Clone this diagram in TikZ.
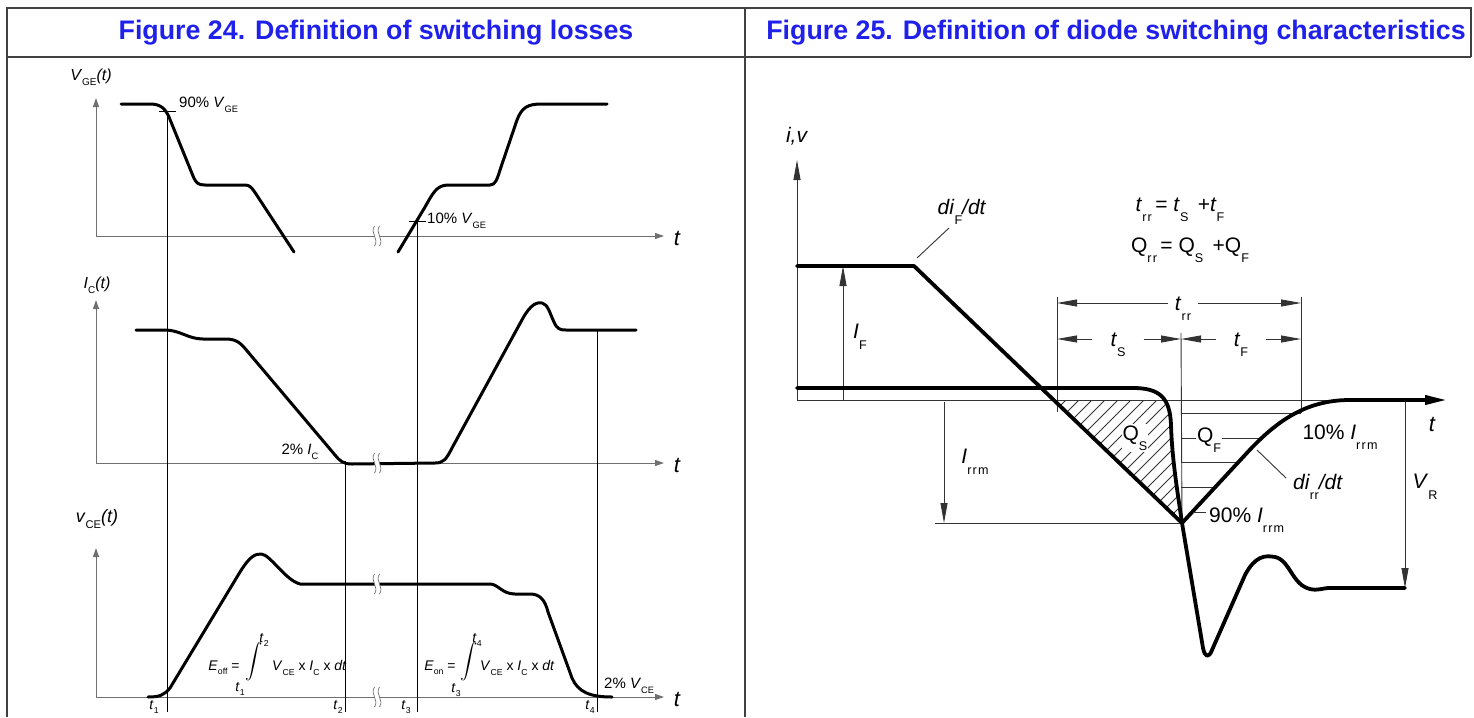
\documentclass[tikz,border=0pt]{standalone}
\usepackage{amsmath}
\usepackage{graphicx}
\usepackage{fontspec}
\setmainfont{Liberation Sans}
\usetikzlibrary{arrows.meta}
\definecolor{figblue}{RGB}{32,32,235}
\definecolor{axisgray}{RGB}{112,112,112}
\newcommand{\lsub}[1]{\raisebox{-0.3em}{\scalebox{0.62}{#1}}}
\newcommand{\dsub}[1]{\raisebox{-0.5em}{\scalebox{0.6}{#1}}}
\tikzset{
  tbl/.style={draw=black!75, line width=1.6pt},
  axis/.style={draw=axisgray, line width=1pt, -{Triangle[length=9pt,width=6pt]}},
  wave/.style={line width=3pt, line cap=round, line join=round},
  dwave/.style={line width=3.8pt, line cap=round, line join=round},
  guide/.style={line width=0.9pt},
  hair/.style={draw=black!80, line width=0.9pt},
  dimtip/.style={hair, -{Triangle[length=20pt,width=7pt]}},
  head/.style={font=\fontsize{26.8}{30}\selectfont\bfseries, text=figblue, inner sep=0pt},
  albl/.style={font=\fontsize{16}{18}\selectfont, inner sep=1pt},
  lbl/.style={font=\fontsize{15}{17}\selectfont, inner sep=1pt},
  flbl/.style={font=\fontsize{14}{16}\selectfont, inner sep=1pt},
  tlbl/.style={font=\fontsize{22}{24}\selectfont\itshape, inner sep=1pt},
  rlbl/.style={font=\fontsize{21}{24}\selectfont, inner sep=1pt},
  brk/.pic={
    \fill[white] (-2.5,-10) .. controls (-7.5,-3) and (2.5,3) .. (-2.5,10) -- (2.5,10) .. controls (7.5,3) and (-2.5,-3) .. (2.5,-10) -- cycle;
    \draw[axisgray, line width=.7pt] (-2.5,-10) .. controls (-7.5,-3) and (2.5,3) .. (-2.5,10);
    \draw[axisgray, line width=.7pt] (2.5,-10) .. controls (-2.5,-3) and (7.5,3) .. (2.5,10);
  }
}

\begin{document}
\begin{tikzpicture}[x=1pt, y=-1pt]
\useasboundingbox (0,0) rectangle (1474,717);

\draw[tbl] (7,717) -- (7,8) -- (1471,8) -- (1471,57);
\draw[tbl] (7,57) -- (1471,57);
\draw[tbl] (745,8) -- (745,717);
\node[head] (hdrA) at (376,33) {Figure 24. Definition of switching losses};
\node[head] (hdrB) at (1116,33) {Figure 25. Definition of diode switching characteristics};

% Figure 24
\foreach \ya/\yt in {236/98, 463/300, 697/548} {
  \draw[axis] (96,\ya) -- (96,\yt);
  \draw[axis] (96,\ya) -- (664,\ya);
}
\node[tlbl] (tAx1) at (677,238) {t};
\node[tlbl] (tAx2) at (677,465) {t};
\node[tlbl] (tAx3) at (677,699) {t};
\node[albl] (yVge) at (91,77) {\textit{V}\lsub{GE}\textit{(t)}};
\node[albl] (yIc) at (97,285) {\textit{I}\lsub{C}\textit{(t)}};
\node[albl, font=\fontsize{18}{20}\selectfont] (yVce) at (97,519) {\textit{v}\lsub{CE}\textit{(t)}};

\coordinate (p90) at (167,111);
\coordinate (p10) at (417,221);
\draw[guide] (p90) -- (167,712);
\draw[guide] (p10) -- (417,712);
\draw[guide] (345,461) -- (345,712);
\draw[guide] (597,330) -- (597,712);
\draw[guide] ([xshift=-8pt]p90) -- ([xshift=9pt]p90);
\draw[guide] ([xshift=-8pt]p10) -- ([xshift=9pt]p10);

\draw[wave] (121,104) -- (150,104) .. controls (160,104) and (165,108) .. (169,117) -- (193,176)
  .. controls (196,183) and (198,185) .. (205,185) -- (245,185) .. controls (250,185) and (252,188) .. (256,194) -- (294,252);
\draw[wave] (398,252) -- (425,207) .. controls (432,195) and (436,185) .. (448,185) -- (490,185)
  .. controls (495,185) and (497,180) .. (500,170) -- (517,120) .. controls (522,107) and (528,104) .. (542,104) -- (607,104);
\draw[wave] (136,330) -- (165,330) .. controls (180,330) and (188,339) .. (203,339) -- (225,339)
  .. controls (236,339) and (240,342) .. (248,352) -- (335,455) .. controls (340,461) and (343,464) .. (352,464) -- (435,463)
  .. controls (443,463) and (446,460) .. (452,448) -- (523,318) .. controls (531,304) and (537,302) .. (542,303)
  .. controls (548,304) and (550,314) .. (554,322) .. controls (557,329) and (560,330) .. (566,330) -- (636,330);
\draw[wave] (148,697) .. controls (160,697) and (164,695) .. (170,688) -- (240,572) .. controls (250,556) and (255,554) .. (261,554)
  .. controls (270,554) and (285,580) .. (300,584) -- (490,584) .. controls (498,584) and (502,594) .. (515,594) -- (530,594)
  .. controls (540,594) and (545,600) .. (548,612) -- (572,678) .. controls (578,692) and (590,697) .. (612,697);

\pic at (377,236) {brk};
\pic at (377,463) {brk};
\pic at (377,584) {brk};
\pic at (377,697) {brk};

\node[lbl, anchor=west] (l90) at (178,105) {90\% \textit{V}\lsub{GE}};
\node[lbl, anchor=west] (l10) at (426,221) {10\% \textit{V}\lsub{GE}};
\node[lbl] (l2ic) at (300,452) {2\% \textit{I}\lsub{C}};
\node[lbl, anchor=west] (l2vce) at (603,686) {2\% \textit{V}\lsub{CE}};

\node[flbl] (eoff) at (224,668) {\textit{E}\lsub{off} =};
\node[font=\fontsize{17}{20}\selectfont, inner sep=0pt] (intA) at (254,662) {$\displaystyle\int$};
\node[flbl] (intAhi) at (264,640) {\textit{t}\lsub{2}};
\node[flbl] (intAlo) at (240,689) {\textit{t}\lsub{1}};
\node[flbl, anchor=west] (eoffB) at (271,668) {\textit{V}\lsub{CE} x \textit{I}\lsub{C} x \textit{dt}};
\node[flbl] (eon) at (440,668) {\textit{E}\lsub{on} =};
\node[font=\fontsize{17}{20}\selectfont, inner sep=0pt] (intB) at (469,662) {$\displaystyle\int$};
\node[flbl] (intBhi) at (477,640) {\textit{t}\lsub{4}};
\node[flbl] (intBlo) at (456,690) {\textit{t}\lsub{3}};
\node[flbl, anchor=west] (eonB) at (479,668) {\textit{V}\lsub{CE} x \textit{I}\lsub{C} x \textit{dt}};

\node[flbl, anchor=north] (tm1) at (154,699) {\textit{t}\lsub{1}};
\node[flbl, anchor=north] (tm2) at (338,699) {\textit{t}\lsub{2}};
\node[flbl, anchor=north] (tm3) at (406,699) {\textit{t}\lsub{3}};
\node[flbl, anchor=north] (tm4) at (590,699) {\textit{t}\lsub{4}};

% Figure 25
\coordinate (vtx) at (1182,523);
\draw[hair, -{Triangle[length=20pt,width=7pt]}] (797,400) -- (797,160);
\draw[hair] (797,400) -- (1350,400);
\node[rlbl] (liv) at (797,136) {\textit{i,v}};

\begin{scope}
  \clip (1054,400) -- (1166,400) -- (1171,425) .. controls (1172,460) and (1178,495) .. (vtx) -- cycle;
  \foreach \k in {0,...,21} \draw[hair] (900+13*\k,540) -- ++(160,-160);
\end{scope}
\foreach \yy/\xe in {413/1301, 438/1262, 462/1238, 487/1215}
  \draw[hair] (1181,\yy) -- (\xe,\yy);

\draw[hair] (935,523) -- (vtx);
\draw[hair] (1181,333) -- (vtx);
\draw[hair] (1057,297) -- (1057,412);
\draw[hair] (1301,297) -- (1301,413);

\coordinate (ifB) at (843,400);
\coordinate (ifT) at (843,266);
\coordinate (irB) at (944,402);
\coordinate (irT) at (944,523);
\coordinate (vrT) at (1405,402);
\coordinate (vrB) at (1405,588);
\draw[dimtip] (ifB) -- (ifT);
\draw[dimtip] (irB) -- (irT);
\draw[dimtip] (vrT) -- (vrB);

\draw[dwave, -{Triangle[length=22pt,width=9pt]}] (797,266) -- (914,266) -- (vtx) -- (1245,455)
  .. controls (1275,422) and (1305,400) .. (1350,400) -- (1447,400);
\draw[dwave] (797,388) -- (1133,388) .. controls (1160,388) and (1170,398) .. (1171,425)
  .. controls (1172,460) and (1178,495) .. (vtx) -- (1203,648) .. controls (1205,658) and (1209,658) .. (1212,650)
  -- (1245,575) .. controls (1255,556) and (1265,555) .. (1275,557) .. controls (1290,560) and (1292,585) .. (1310,589)
  .. controls (1318,591) and (1322,588) .. (1330,588) -- (1405,588);

\coordinate (trrL) at (1057,303);
\coordinate (trrR) at (1301,303);
\coordinate (tsL) at (1057,339);
\coordinate (tmid) at (1181,339);
\coordinate (tfR) at (1301,339);
\node[rlbl, anchor=base, inner xsep=7pt] (trr) at (1183,310) {\textit{t}\dsub{r\kern2pt r}};
\node[rlbl, anchor=base, inner xsep=18pt] (ts) at (1118,346) {\textit{t}\dsub{S}};
\node[rlbl, anchor=base, inner xsep=18pt] (tf) at (1241,346) {\textit{t}\dsub{F}};
\draw[dimtip] (trr.west |- trrL) -- (trrL);
\draw[dimtip] (trr.east |- trrR) -- (trrR);
\draw[dimtip] (ts.west |- tsL) -- (tsL);
\draw[dimtip] (ts.east |- tmid) -- (tmid);
\draw[dimtip] (tf.west |- tmid) -- (tmid);
\draw[dimtip] (tf.east |- tfR) -- (tfR);

\node[rlbl] (ftrr) at (1180,210) {\textit{t}\dsub{r\kern2pt r}\,= \textit{t}\dsub{S}\, +\textit{t}\dsub{F}};
\node[rlbl] (fqrr) at (1190,250) {Q\dsub{r\kern2pt r}\,= Q\dsub{S}\, +Q\dsub{F}};

\coordinate (difA) at (917,258);
\coordinate (difB) at (949,228);
\draw[hair] (difA) -- (difB);
\node[rlbl] (ldif) at (962,212) {\textit{di}\dsub{F}\textit{/dt}};
\node[rlbl] (lif) at (860,337) {\textit{I}\dsub{F}};
\node[rlbl] (lirrm) at (975,462) {\textit{I}\dsub{r\kern2pt r\kern2pt m}};
\node[rlbl] (lvr) at (1425,487) {\textit{V}\dsub{R}};
\node[rlbl] (lqs) at (1135,438) [fill=white] {Q\dsub{S}};
\node[rlbl] (lqf) at (1209,440) [fill=white] {Q\dsub{F}};
\node[rlbl] (l10r) at (1340,437) {10\% \textit{I}\dsub{r\kern2pt r\kern2pt m}};
\coordinate (drA) at (1257,450);
\coordinate (drB) at (1286,478);
\draw[hair] (drA) -- (drB);
\node[rlbl] (ldrr) at (1318,487) {\textit{di}\dsub{r\kern1pt r}\textit{/dt}};
\coordinate (q90A) at (1193,512);
\coordinate (q90B) at (1206,512);
\draw[hair] (q90A) -- (q90B);
\node[rlbl, anchor=base west] (l90r) at (1208,522) {90\% \textit{I}\dsub{r\kern2pt r\kern2pt m}};
\node[rlbl, font=\fontsize{22}{24}\selectfont\itshape] (tAxR) at (1432,424) {t};
\end{tikzpicture}
\end{document}
